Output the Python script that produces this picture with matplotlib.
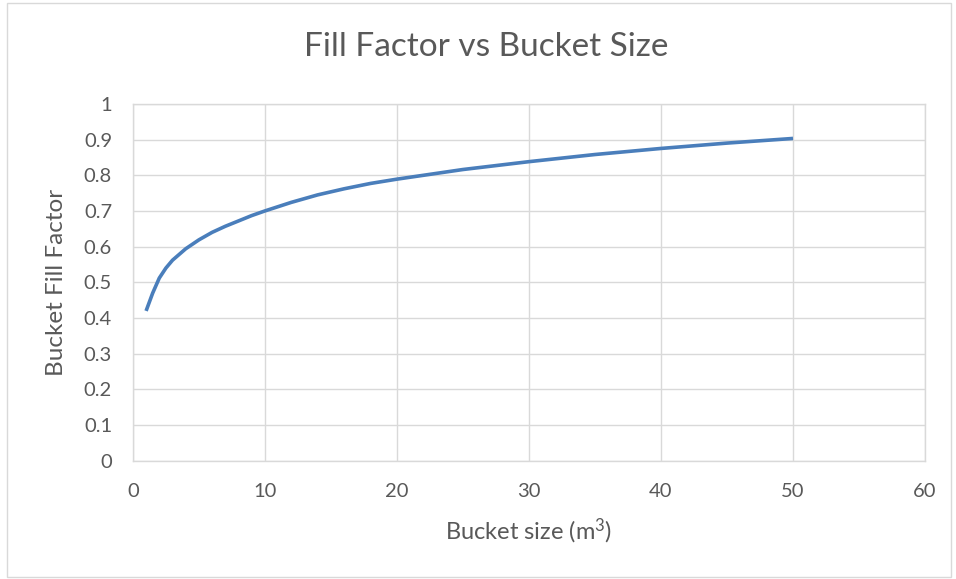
import matplotlib.pyplot as plt
from matplotlib.patches import Rectangle

bucket_size = [1, 1.5, 2, 2.5, 3, 4, 5, 6, 7, 8, 9, 10, 12, 14, 16, 18, 20,
               25, 30, 35, 40, 45, 50]
fill_factor = [0.42, 0.47, 0.512, 0.54, 0.562, 0.594, 0.619, 0.64, 0.657, 0.672,
               0.687, 0.70, 0.724, 0.745, 0.762, 0.777, 0.789,
               0.816, 0.838, 0.858, 0.875, 0.89, 0.903]

xticks = [0, 10, 20, 30, 40, 50, 60]
yticks = [0, 0.1, 0.2, 0.3, 0.4, 0.5, 0.6, 0.7, 0.8, 0.9, 1]
ytick_labels = ['0', '0.1', '0.2', '0.3', '0.4', '0.5', '0.6', '0.7', '0.8', '0.9', '1']

plt.rcParams['font.family'] = ['Lato', 'DejaVu Sans']
plt.rcParams['mathtext.fontset'] = 'custom'
plt.rcParams['mathtext.rm'] = 'Lato'
grey = '#595959'
grid = '#d9d9d9'

fig = plt.figure(figsize=(9.56, 5.79), dpi=100)
fig.patches.append(Rectangle((0.007, 0.003), 0.988, 0.992, transform=fig.transFigure,
                             fill=False, edgecolor=grid, linewidth=1))
ax = fig.add_axes([0.139, 0.204, 0.8286, 0.6167])

ax.plot(bucket_size, fill_factor, color='#4a7ebb', linewidth=2.6,
        solid_capstyle='butt', solid_joinstyle='round')

ax.set_xlim(0, 60)
ax.set_ylim(0, 1)
ax.set_xticks(xticks)
ax.set_yticks(yticks)
ax.set_yticklabels(ytick_labels)
ax.grid(color=grid, linewidth=1)
ax.set_axisbelow(True)
for s in ax.spines.values():
    s.set_color(grid)
    s.set_linewidth(1)
ax.tick_params(length=0, labelsize=14.5, colors=grey)
ax.tick_params(axis='x', pad=16)
ax.tick_params(axis='y', pad=15)

fig.text(0.509, 0.919, 'Fill Factor vs Bucket Size', fontsize=24, color=grey,
         ha='center', va='center')
ax.set_xlabel('Bucket size (m$\\mathregular{^3}$)', fontsize=17, color=grey, labelpad=12)
ax.set_ylabel('Bucket Fill Factor', fontsize=17.5, color=grey, labelpad=12)

fig.savefig('out.png', dpi=100)
